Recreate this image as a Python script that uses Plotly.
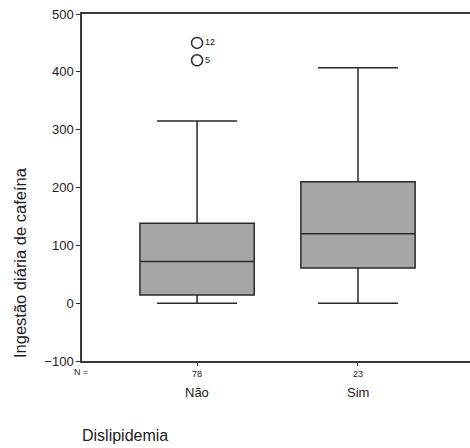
import plotly.graph_objects as go

categories = ["Não", "Sim"]
n_counts = [78, 23]
q1 = [14, 61]
median = [72, 120]
q3 = [138, 210]
lower_whisker = [0, 0]
upper_whisker = [315, 407]
outlier_group = [1, 1]
outlier_values = [450, 420]
outlier_labels = ["12", "5"]
y_ticks = [-100, 0, 100, 200, 300, 400, 500]

positions = [i + 1 for i in range(len(categories))]

fig = go.Figure()
fig.add_trace(go.Box(
    x=positions, q1=q1, median=median, q3=q3,
    lowerfence=lower_whisker, upperfence=upper_whisker,
    width=0.71, whiskerwidth=0.7,
    fillcolor="#a6a6a6", line=dict(color="#2a2a2a", width=1.5),
    boxpoints=False, showlegend=False, hoverinfo="skip",
))
fig.add_trace(go.Scatter(
    x=outlier_group, y=outlier_values, mode="markers+text",
    marker=dict(symbol="circle-open", size=11, color="#2a2a2a", line=dict(width=1.5)),
    text=outlier_labels, textposition="middle right",
    textfont=dict(family="Liberation Sans, Arial", size=9, color="#222"),
    showlegend=False, hoverinfo="skip",
))

fig.update_layout(
    width=470, height=448,
    margin=dict(l=82, r=0, t=14, b=87),
    plot_bgcolor="white", paper_bgcolor="white",
    font=dict(family="Liberation Sans, Arial", color="#222"),
    xaxis=dict(
        range=[0.285, 2.696], tickvals=positions,
        ticktext=[str(v) for v in n_counts],
        tickfont=dict(size=9), ticks="outside", ticklen=3, tickcolor="#333",
        showline=True, linecolor="#3a3a3a", linewidth=1.5, mirror=True,
        showgrid=False, zeroline=False, automargin=False,
    ),
    yaxis=dict(
        range=[-100, 500], tickvals=y_ticks,
        tickfont=dict(size=13), ticks="outside", ticklen=4, tickcolor="#333",
        showline=True, linecolor="#3a3a3a", linewidth=1.5,
        showgrid=False, zeroline=False, automargin=False,
    ),
)

for p, c in zip(positions, categories):
    fig.add_annotation(x=p, y=-0.09, xref="x", yref="paper", text=c,
                       showarrow=False, font=dict(size=13), yanchor="middle")
fig.add_annotation(x=-0.025, y=-0.032, xref="paper", yref="paper", text="N =",
                   showarrow=False, font=dict(size=9), xanchor="left", yanchor="middle")
fig.add_annotation(x=-0.005, y=-0.214, xref="paper", yref="paper", text="Dislipidemia",
                   showarrow=False, font=dict(size=16), xanchor="left", yanchor="middle")
fig.add_annotation(x=-0.16, y=0.285, xref="paper", yref="paper",
                   text="Ingestão diária de cafeína", textangle=-90,
                   showarrow=False, font=dict(size=16.5), xanchor="center", yanchor="middle")

fig.write_html("out.html", config={"displayModeBar": False},
               post_script="document.body.style.margin='0';")
